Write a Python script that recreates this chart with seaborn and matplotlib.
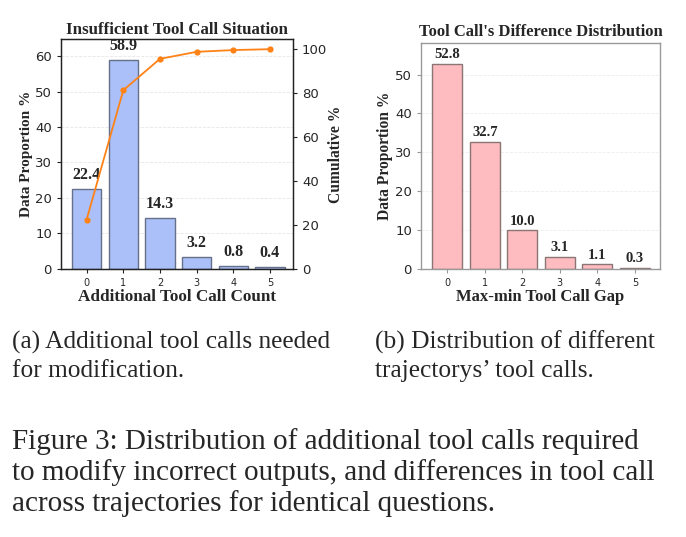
import matplotlib
matplotlib.use("Agg")
import matplotlib.pyplot as plt
import seaborn as sns
import pandas as pd

# Data
counts = [0, 1, 2, 3, 4, 5]
extra_calls_pct = [22.4, 58.9, 14.3, 3.2, 0.8, 0.4]
cumulative_pct = [22.4, 81.3, 95.6, 98.8, 99.6, 100.0]
gap_pct = [52.8, 32.7, 10.0, 3.1, 1.1, 0.3]

caption_a = ["(a) Additional tool calls needed", "for modification."]
caption_b = ["(b) Distribution of different", "trajectorys\u2019 tool calls."]
caption_fig = ["Figure 3: Distribution of additional tool calls required",
               "to modify incorrect outputs, and differences in tool call",
               "across trajectories for identical questions."]

df_a = pd.DataFrame({"count": counts, "pct": extra_calls_pct, "cum": cumulative_pct})
df_b = pd.DataFrame({"gap": counts, "pct": gap_pct})

sns.set_style("white")
SERIF = ["Liberation Serif", "DejaVu Serif"]
W, H = 686, 537

fig = plt.figure(figsize=(6.86, 5.37), dpi=100)

# ---- (a) insufficient tool calls ----
ax = fig.add_axes([0.0889, 0.4996, 0.3382, 0.4272])
sns.barplot(data=df_a, x="count", y="pct", color="#abc0f8", edgecolor="#66708a",
            linewidth=1.0, width=0.8, saturation=1, ax=ax)
ax.set_xlim(-0.7, 5.63)
ax.set_ylim(0, max(extra_calls_pct) * 1.1)
ax.set_yticks([0, 10, 20, 30, 40, 50, 60])
ax.yaxis.grid(True, linestyle="--", color="#e6e6e6", linewidth=0.6)
ax.set_axisbelow(True)
for x, v in zip(counts, extra_calls_pct):
    ax.text(x, v + 1.8, f"{v}", ha="center", va="bottom", fontsize=11.5,
            fontweight="bold", family=SERIF)
ax.tick_params(axis="y", labelsize=9.5, length=3, left=True, color="#222")
ax.tick_params(axis="x", labelsize=7, length=3, bottom=True, color="#222")
ax.set_xlabel("Additional Tool Call Count", fontsize=12.3, fontweight="bold",
              family=SERIF, labelpad=1)
ax.set_ylabel("Data Proportion %", fontsize=11, fontweight="bold", family=SERIF)
ax.yaxis.set_label_coords(-0.121, 0.5)
ax.set_title("Insufficient Tool Call Situation", fontsize=12.2, fontweight="bold",
             family=SERIF, pad=4)
for s in ax.spines.values():
    s.set_color("#222")
    s.set_linewidth(0.9)

ax2 = ax.twinx()
sns.lineplot(data=df_a, x="count", y="cum", color="#ff8216", marker="o",
             markersize=4.5, markeredgewidth=0, linewidth=1.3, ax=ax2)
ax2.set_ylim(0, 104.5)
ax2.set_yticks([0, 20, 40, 60, 80, 100])
ax2.tick_params(axis="y", labelsize=9.5, length=3, right=True, color="#222")
ax2.set_ylabel("Cumulative %", fontsize=11.2, fontweight="bold", family=SERIF)
ax2.yaxis.set_label_coords(1.151, 0.5)
for s in ax2.spines.values():
    s.set_color("#222")
    s.set_linewidth(0.9)

# ---- (b) difference distribution ----
bx = fig.add_axes([0.6137, 0.4996, 0.3484, 0.4197])
sns.barplot(data=df_b, x="gap", y="pct", color="#ffbcc0", edgecolor="#8a7474",
            linewidth=1.0, width=0.8, saturation=1, ax=bx)
bx.set_xlim(-0.7, 5.67)
bx.set_ylim(0, max(gap_pct) * 1.1)
bx.set_yticks([0, 10, 20, 30, 40, 50])
bx.yaxis.grid(True, linestyle="--", color="#eeeeee", linewidth=0.6)
bx.set_axisbelow(True)
for x, v in zip(counts, gap_pct):
    bx.text(x, v + 0.6, f"{v:.1f}", ha="center", va="bottom", fontsize=10.5,
            fontweight="bold", family=SERIF)
bx.tick_params(axis="y", labelsize=9.5, length=3, left=True, color="#999")
bx.tick_params(axis="x", labelsize=7, length=3, bottom=True, color="#999")
bx.set_xlabel("Max-min Tool Call Gap", fontsize=12, fontweight="bold",
              family=SERIF, labelpad=1)
bx.set_ylabel("Data Proportion %", fontsize=11.2, fontweight="bold", family=SERIF)
bx.yaxis.set_label_coords(-0.117, 0.5)
bx.set_title("Tool Call's Difference Distribution", fontsize=12, fontweight="bold",
             family=SERIF, pad=5)
for s in bx.spines.values():
    s.set_color("#9a9a9a")
    s.set_linewidth(1.0)

# ---- captions (one text per line, placed on its baseline) ----
for i, line in enumerate(caption_a):
    fig.text(12 / W, 1 - (349 + 28 * i) / H, line, ha="left", va="baseline",
             fontsize=18.3, family=SERIF)
for i, line in enumerate(caption_b):
    fig.text(375 / W, 1 - (349 + 28 * i) / H, line, ha="left", va="baseline",
             fontsize=18.3, family=SERIF)
for i, line in enumerate(caption_fig):
    fig.text(12 / W, 1 - (449 + 31 * i) / H, line, ha="left", va="baseline",
             fontsize=21, family=SERIF)

fig.savefig("out.png", dpi=100)
